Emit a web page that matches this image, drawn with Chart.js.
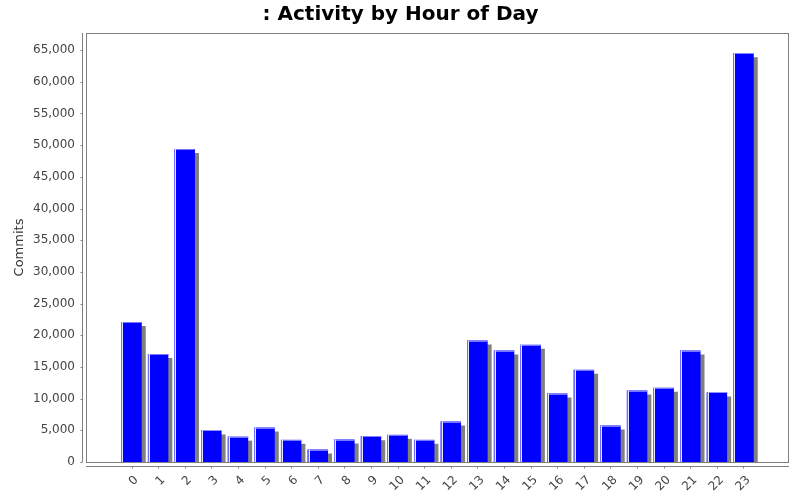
<!DOCTYPE html>
<html>
<head>
<meta charset="utf-8">
<title>Activity by Hour of Day</title>
<script src="https://cdn.jsdelivr.net/npm/chart.js@4.4.1/dist/chart.umd.min.js"></script>
<style>
    html, body { margin: 0; padding: 0; background: #ffffff; }
    canvas { display: block; }
</style>
</head>
<body>
<canvas id="hourChart" width="800" height="500"></canvas>
<script>
// Chart data
const hours = ['0', '1', '2', '3', '4', '5', '6', '7', '8', '9', '10', '11', '12', '13', '14', '15', '16', '17', '18', '19', '20', '21', '22', '23'];
const commits = [22100, 17050, 49400, 4980, 4000, 5440, 3500, 1970, 3550, 4070, 4290, 3500, 6390, 19170, 17590, 18490, 10800, 14550, 5760, 11280, 11700, 17590, 10970, 64500];
const yTicks = [0, 5000, 10000, 15000, 20000, 25000, 30000, 35000, 40000, 45000, 50000, 55000, 60000, 65000];

// Plot frame, offset axis lines and tick marks (JFreeChart look)
const plotFrame = {
    id: 'plotFrame',
    beforeDatasetsDraw: function(chart) {
        const ctx = chart.ctx;
        const a = chart.chartArea;
        ctx.save();
        ctx.strokeStyle = '#808080';
        ctx.lineWidth = 1;
        ctx.strokeRect(Math.round(a.left) + 0.5, Math.round(a.top) + 0.5, Math.round(a.right - a.left) - 1, Math.round(a.bottom - a.top));
        ctx.restore();
    },
    beforeDatasetDraw: function(chart) {
        const ctx = chart.ctx;
        const r = chart.currentDevicePixelRatio || 1;
        ctx.save();
        ctx.shadowColor = '#808080';
        ctx.shadowBlur = 0;
        ctx.shadowOffsetX = 4 * r;
        ctx.shadowOffsetY = 4 * r;
    },
    afterDatasetDraw: function(chart, args) {
        const ctx = chart.ctx;
        ctx.restore();
        // white highlight stripe near the left edge of each bar
        const a = chart.chartArea;
        ctx.save();
        ctx.beginPath();
        ctx.rect(a.left, a.top, a.right - a.left, a.bottom - a.top);
        ctx.clip();
        args.meta.data.forEach(function(bar) {
            const p = bar.getProps(['x', 'y', 'base', 'width'], true);
            const left = Math.round(p.x - p.width / 2);
            ctx.fillStyle = 'rgba(110, 110, 255, 1)';
            ctx.fillRect(left, p.y, 1, p.base - p.y);
            ctx.fillStyle = 'rgba(255, 255, 255, 0.9)';
            ctx.fillRect(left + 1, p.y, 1, p.base - p.y);
            ctx.fillStyle = 'rgba(150, 150, 255, 0.8)';
            ctx.fillRect(left + 2, Math.round(p.y), p.width - 2, 1);
        });
        ctx.restore();
    },
    afterDraw: function(chart) {
        const ctx = chart.ctx;
        const a = chart.chartArea;
        const xs = chart.scales.x;
        const ys = chart.scales.y;
        const axisX = Math.round(a.left) - 4 + 0.5;
        const axisY = Math.round(a.bottom) + 4 + 0.5;
        ctx.save();
        ctx.strokeStyle = '#808080';
        ctx.lineWidth = 1;
        ctx.beginPath();
        ctx.moveTo(axisX, a.top);
        ctx.lineTo(axisX, a.bottom);
        ctx.moveTo(a.left, axisY);
        ctx.lineTo(a.right, axisY);
        yTicks.forEach(function(v) {
            const py = Math.round(ys.getPixelForValue(v)) + 0.5;
            ctx.moveTo(axisX - 2, py);
            ctx.lineTo(axisX, py);
        });
        hours.forEach(function(h, i) {
            const px = Math.round(xs.getPixelForValue(i)) + 0.5;
            ctx.moveTo(px, axisY);
            ctx.lineTo(px, axisY + 2);
        });
        ctx.stroke();
        ctx.restore();
    }
};

document.addEventListener('DOMContentLoaded', function() {
    const ctx = document.getElementById('hourChart').getContext('2d');
    new Chart(ctx, {
        type: 'bar',
        data: {
            datasets: [{
                label: 'Commits',
                data: hours.map(function(h, i) { return { x: i, y: commits[i] }; }),
                backgroundColor: '#0000ff',
                borderWidth: 0,
                barPercentage: 0.77,
                categoryPercentage: 1.0
            }]
        },
        options: {
            responsive: false,
            animation: false,
            devicePixelRatio: 1,
            layout: {
                padding: { left: 12, right: 11, top: 0, bottom: 0 }
            },
            plugins: {
                legend: { display: false },
                tooltip: { enabled: false },
                title: {
                    display: true,
                    text: ': Activity by Hour of Day',
                    color: '#000000',
                    font: { family: 'DejaVu Sans', size: 20, weight: 'bold' },
                    padding: { top: 3, bottom: 6 }
                }
            },
            scales: {
                x: {
                    type: 'linear',
                    offset: false,
                    min: -1.71,
                    max: 24.71,
                    grid: { display: false },
                    border: { display: false },
                    afterBuildTicks: function(scale) {
                        scale.ticks = hours.map(function(h, i) { return { value: i }; });
                    },
                    afterFit: function(scale) {
                        scale.height = 38;
                    },
                    ticks: {
                        autoSkip: false,
                        maxRotation: 45,
                        minRotation: 45,
                        padding: 3,
                        labelOffset: 5,
                        color: '#444444',
                        font: { family: 'DejaVu Sans', size: 12 },
                        callback: function(value) { return hours[value]; }
                    }
                },
                y: {
                    min: 0,
                    max: 67700,
                    grid: { display: false },
                    border: { display: false },
                    afterBuildTicks: function(scale) {
                        scale.ticks = yTicks.map(function(v) { return { value: v }; });
                    },
                    afterFit: function(scale) {
                        scale.width = 74;
                    },
                    title: {
                        display: true,
                        text: 'Commits',
                        color: '#333333',
                        font: { family: 'DejaVu Sans', size: 13 },
                        padding: { top: 0, bottom: 0 }
                    },
                    ticks: {
                        autoSkip: false,
                        padding: 3,
                        color: '#444444',
                        font: { family: 'DejaVu Sans', size: 12 },
                        callback: function(value) { return value.toLocaleString('en-US'); }
                    }
                }
            }
        },
        plugins: [plotFrame]
    });
});
</script>
</body>
</html>
